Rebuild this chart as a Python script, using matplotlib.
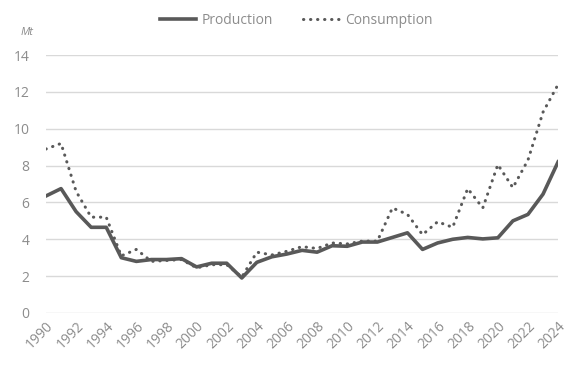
import matplotlib.pyplot as plt
from matplotlib.lines import Line2D

plt.rcParams['font.family'] = ['Open Sans', 'DejaVu Sans']

# Data (Mt)
years = list(range(1990, 2025))
production = [6.35, 6.75, 5.5, 4.65, 4.65, 3.0, 2.8, 2.9, 2.9, 2.95,
              2.5, 2.7, 2.7, 1.9, 2.75, 3.05, 3.2, 3.4, 3.3, 3.65,
              3.62, 3.85, 3.85, 4.1, 4.35, 3.45, 3.8, 4.0, 4.1, 4.02,
              4.08, 5.0, 5.35, 6.45, 8.2]
consumption = [8.9, 9.2, 6.6, 5.2, 5.2, 3.1, 3.45, 2.8, 2.85, 2.9,
               2.45, 2.62, 2.62, 1.95, 3.3, 3.15, 3.35, 3.6, 3.5, 3.8,
               3.75, 3.9, 3.9, 5.7, 5.35, 4.25, 4.95, 4.65, 6.75, 5.7,
               8.05, 6.8, 8.3, 10.9, 12.4]
xtick_years = list(range(1990, 2025, 2))
yticks = list(range(0, 15, 2))

line_color = '#595959'
text_color = '#8c8c8c'
grid_color = '#d9d9d9'

fig = plt.figure(figsize=(5.85, 3.68), dpi=100)
ax = fig.add_axes([0.0786, 0.1495, 0.8754, 0.701])

ax.plot(years, production, color=line_color, lw=2.6, solid_joinstyle='round')
ax.plot(years, consumption, color=line_color, lw=2.2,
        linestyle=(0, (0.1, 2.2)), dash_capstyle='round')

ax.set_xlim(1990, 2024)
ax.set_ylim(0, 14)
ax.set_yticks(yticks)
ax.set_xticks(xtick_years)
ax.set_xticklabels([str(y) for y in xtick_years], rotation=45,
                   ha='right', rotation_mode='anchor')
ax.tick_params(axis='both', length=0, labelsize=10, labelcolor=text_color)
ax.tick_params(axis='y', pad=12)
ax.tick_params(axis='x', pad=4)
ax.grid(axis='y', color=grid_color, lw=1)
ax.set_axisbelow(True)
for s in ax.spines.values():
    s.set_visible(False)

fig.text(0.035, 0.912, 'Mt', fontsize=8, style='italic', color=text_color,
         ha='left', va='center')

handles = [Line2D([], [], color=line_color, lw=2.6),
           Line2D([], [], color=line_color, lw=2.2, linestyle=(0, (0.1, 2.2)),
                  dash_capstyle='round')]
leg = fig.legend(handles, ['Production', 'Consumption'], loc='center',
                 bbox_to_anchor=(0.506, 0.945), ncol=2, frameon=False,
                 fontsize=10, handlelength=2.6, columnspacing=2.2,
                 handletextpad=0.4)
for t in leg.get_texts():
    t.set_color(text_color)

fig.savefig('out.png', dpi=100)
